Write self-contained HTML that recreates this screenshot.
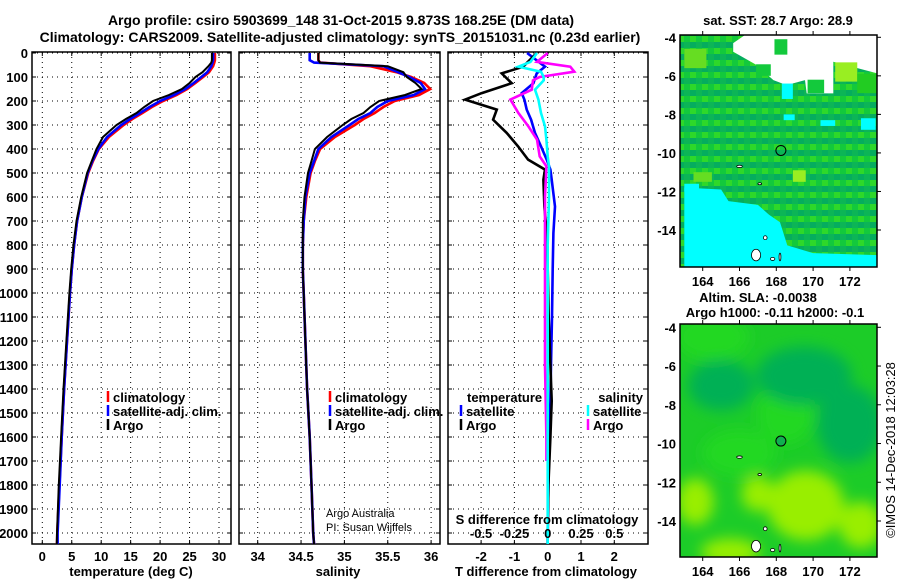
<!DOCTYPE html>
<html><head><meta charset="utf-8">
<style>
html,body{margin:0;padding:0;background:#fff;}
svg{display:block;font-family:"Liberation Sans",sans-serif;}
.t{font-weight:bold;font-size:13px;fill:#000;}
.n{font-weight:normal;fill:#000;}
.tl{font-weight:bold;font-size:14px;fill:#000;}
</style></head>
<body>
<svg id="fig" width="900" height="580" viewBox="0 0 900 580" xmlns="http://www.w3.org/2000/svg">
<defs>
<clipPath id="c1"><rect x="32" y="52" width="199" height="492"/></clipPath>
<clipPath id="c2"><rect x="239" y="52" width="201" height="492"/></clipPath>
<clipPath id="c3"><rect x="448" y="52" width="200" height="492"/></clipPath>
<clipPath id="cm1"><rect x="680" y="35" width="197" height="232"/></clipPath>
<clipPath id="cm2"><rect x="680" y="324" width="197" height="233"/></clipPath>
<filter id="blur" x="-50%" y="-50%" width="200%" height="200%"><feGaussianBlur stdDeviation="7"/></filter>
<pattern id="pix" width="12" height="12" patternUnits="userSpaceOnUse">
<rect width="12" height="12" fill="#0cb556"/><rect width="6" height="6" fill="#13c93c"/><rect x="6" y="6" width="6" height="6" fill="#05ad5e"/><rect x="6" y="0" width="6" height="6" fill="#2ed82a"/>
</pattern>
</defs>
<text class="tl" x="341" y="25" text-anchor="middle">Argo profile: csiro 5903699_148 31-Oct-2015 9.873S 168.25E (DM data)</text>
<text class="tl" x="340" y="42" text-anchor="middle">Climatology: CARS2009. Satellite-adjusted climatology: synTS_20151031.nc (0.23d earlier)</text>
<g id="layer"></g>
</svg>
<script>
// ---- data ----
const depths = [0,30,40,55,80,100,125,150,175,200,225,250,275,300,350,400,450,500,600,700,800,900,1000,1200,1400,1600,1800,2000,2050];
const tempArgo = [28.8,28.8,28.7,28.2,27.2,26.0,25.0,23.7,21.5,18.8,17.3,16.0,14.2,12.6,10.3,9.2,8.4,7.6,6.6,5.8,5.3,4.9,4.6,4.1,3.6,3.2,2.8,2.5,2.45];
const tempClim = [29.3,29.3,29.2,29.0,28.3,27.3,26.0,24.6,22.8,20.5,18.6,17.0,15.3,13.8,11.3,9.6,8.6,7.8,6.7,5.9,5.4,5.0,4.7,4.2,3.7,3.3,2.9,2.55,2.5];
const tempSat = [29.0,29.0,28.9,28.7,28.0,27.0,25.7,24.3,22.4,20.0,18.2,16.6,14.9,13.4,11.0,9.5,8.5,7.7,6.7,5.9,5.4,5.0,4.7,4.2,3.7,3.3,2.95,2.6,2.6];
const salArgo = [34.70,34.70,34.72,35.5,35.68,35.72,35.82,35.89,35.7,35.4,35.3,35.22,35.08,34.98,34.80,34.66,34.62,34.58,34.54,34.52,34.52,34.52,34.53,34.55,34.57,34.6,34.62,34.64,34.65];
const salSat = [34.60,34.60,34.65,35.45,35.62,35.75,35.88,35.93,35.8,35.5,35.38,35.3,35.16,35.06,34.85,34.70,34.65,34.60,34.55,34.53,34.52,34.52,34.53,34.55,34.57,34.6,34.62,34.64,34.65];
const salClim = [34.70,34.70,34.72,35.3,35.6,35.77,35.92,35.99,35.86,35.58,35.45,35.35,35.22,35.12,34.89,34.72,34.66,34.61,34.56,34.53,34.52,34.52,34.53,34.55,34.57,34.6,34.62,34.64,34.65];
const tDiffDepths = [0,57,85,126,167,194,236,278,333,389,444,486,528,640,750,900,1100,1300,1450,1600,1800,2000,2050];
const tDiffArgo = [-0.33,-0.74,-1.38,-1.08,-1.98,-2.48,-1.53,-1.64,-1.23,-0.89,-0.59,-0.08,-0.13,-0.1,-0.03,0.0,0.03,0.08,0.12,0.08,0.02,0.0,0.0];
const tDiffSat = [-0.62,-0.08,-0.33,-0.43,-0.78,-0.7,-0.63,-0.5,-0.38,-0.2,-0.03,0.08,0.12,0.22,0.17,0.15,0.13,0.1,0.08,0.05,0.02,0.0,0.0];
const sDiffDepths = [0,37,57,78,100,114,153,194,250,306,361,431,472,600,800,1000,1300,1600,1700,2000,2050];
const sDiffArgo = [0.0,-0.08,0.17,0.2,-0.06,-0.11,-0.12,-0.28,-0.22,-0.145,-0.08,-0.06,-0.01,-0.02,-0.02,-0.02,-0.02,-0.01,-0.01,null,null];
const sDiffSat = [-0.08,-0.13,-0.22,-0.05,-0.03,-0.03,-0.095,-0.07,-0.05,-0.02,-0.01,0.0,0.01,0.01,0.0,0.0,0.0,0.0,0.0,0.0,0.0];
const depthTicks = [0,100,200,300,400,500,600,700,800,900,1000,1100,1200,1300,1400,1500,1600,1700,1800,1900,2000];
const tempTicks = [0,5,10,15,20,25,30];
const salTicks = [34,34.5,35,35.5,36];
const salTickLabels = ["34","34.5","35","35.5","36"];
const tDiffTicks = [-2,-1,0,1,2];
const sDiffTicks = [-0.5,-0.25,0,0.25,0.5];
const sDiffTickLabels = ["-0.5","-0.25","0","0.25","0.5"];
const lonTicks = [164,166,168,170,172];
const latTicks = [-4,-6,-8,-10,-12,-14];
const floatLon = 168.25, floatLat = -9.873;

// ---- scales ----
const NS='http://www.w3.org/2000/svg';
const layer=document.getElementById('layer');
const yD = d => 53 + d*0.24;
const xT = v => 42.3 + v*5.89;
const xS = v => 257.7 + (v-34)*86.7;
const xTD = v => 547.7 + v*33.3;
const xSD = v => 547.7 + v*4*33.3;
const lonX = lon => 702.7 + (lon-164)*18.4;
const latY1 = lat => 37.3 + (-4-lat)*19.27;
const latY2 = lat => 327.3 + (-4-lat)*19.37;

function mk(tag, attrs, parent){const e=document.createElementNS(NS,tag);for(const k in attrs)e.setAttribute(k,attrs[k]);(parent||layer).appendChild(e);return e;}
function txt(s,x,y,anchor,cls,parent){const e=mk('text',{x:x,y:y,'text-anchor':anchor||'start','class':cls||'t'},parent);e.textContent=s;return e;}
function pathFrom(xs,ds,xf){let p='';let pen=false;for(let i=0;i<xs.length;i++){if(xs[i]===null){pen=false;continue;}p+=(pen?'L':'M')+xf(xs[i]).toFixed(1)+','+yD(ds[i]).toFixed(1);pen=true;}return p;}

function panel(x0,x1,clip,xTicksArr,xf,name){
  const g=mk('g',{});
  
  
  depthTicks.forEach(d=>{
    const l=mk('line',{x1:x0,x2:x1,y1:yD(d),y2:yD(d),stroke:'#000','stroke-width':1,'stroke-dasharray':'1,4'},g);
    
    
    mk('line',{x1:x0,x2:x0+4,y1:yD(d),y2:yD(d),stroke:'#000'},g);
    mk('line',{x1:x1-4,x2:x1,y1:yD(d),y2:yD(d),stroke:'#000'},g);
  });
  xTicksArr.forEach(v=>{
    const l=mk('line',{x1:xf(v),x2:xf(v),y1:52,y2:544,stroke:'#000','stroke-width':1,'stroke-dasharray':'1,4'},g);
    
    
    mk('line',{x1:xf(v),x2:xf(v),y1:52,y2:56,stroke:'#000'},g);
    mk('line',{x1:xf(v),x2:xf(v),y1:540,y2:544,stroke:'#000'},g);
  });
  const f=mk('rect',{x:x0,y:52,width:x1-x0,height:492,fill:'none',stroke:'#000','stroke-width':1.5},g);
  
  
  return g;
}
function series(vals,ds,xf,color,clip,name,w){
  const p=mk('path',{d:pathFrom(vals,ds,xf),fill:'none',stroke:color,'stroke-width':w||2.6,'stroke-linejoin':'miter','clip-path':'url(#'+clip+')'});
  
  
}
function legendItem(x,y,color,label,name){
  const g=mk('g',{});
  
  
  mk('line',{x1:x,x2:x,y1:y-11,y2:y,stroke:color,'stroke-width':2.5},g);
  txt(label,x+5,y,'start','t',g);
}

// ---- panel 1: temperature ----
panel(32,231,'c1',tempTicks,xT,'temperature-panel');
depthTicks.forEach(d=>{const e=txt(String(d),28,yD(d)+5,'end');});
tempTicks.forEach(v=>{const e=txt(String(v),xT(v),561,'middle');});
{const e=txt('temperature (deg C)',131,576,'middle');}
series(tempClim,depths,xT,'#ff0000','c1','temp-climatology-line');
series(tempSat,depths,xT,'#0000ff','c1','temp-satellite-line');
series(tempArgo,depths,xT,'#000000','c1','temp-argo-line',2);
legendItem(108,402,'#ff0000','climatology','legend-climatology');
legendItem(108,416,'#0000ff','satellite-adj. clim.','legend-satellite-adj');
legendItem(108,430,'#000000','Argo','legend-argo');

// ---- panel 2: salinity ----
panel(239,440,'c2',salTicks,xS,'salinity-panel');
salTicks.forEach((v,i)=>{const e=txt(salTickLabels[i],xS(v),561,'middle');});
{const e=txt('salinity',338,576,'middle');}
series(salClim,depths,xS,'#ff0000','c2','sal-climatology-line');
series(salSat,depths,xS,'#0000ff','c2','sal-satellite-line');
series(salArgo,depths,xS,'#000000','c2','sal-argo-line',2);
legendItem(330,402,'#ff0000','climatology','legend-climatology-sal');
legendItem(330,416,'#0000ff','satellite-adj. clim.','legend-satellite-adj-sal');
legendItem(330,430,'#000000','Argo','legend-argo-sal');
{const e=txt('Argo Australia',326,517,'start','n');e.setAttribute('font-size','11');}
{const e=txt('PI: Susan Wijffels',326,531,'start','n');e.setAttribute('font-size','11');}

// ---- panel 3: differences ----
panel(448,648,'c3',tDiffTicks,xTD,'difference-panel');
tDiffTicks.forEach(v=>{const e=txt(String(v),xTD(v),561,'middle');});
{const e=txt('T difference from climatology',546,576,'middle');}
series(tDiffSat,tDiffDepths,xTD,'#0000ff','c3','t-diff-satellite-line');
series(tDiffArgo,tDiffDepths,xTD,'#000000','c3','t-diff-argo-line');
series(sDiffArgo,sDiffDepths,xSD,'#ff00ff','c3','s-diff-argo-line');
series(sDiffSat,sDiffDepths,xSD,'#00ffff','c3','s-diff-satellite-line');
{const e=txt('S difference from climatology',547,524,'middle');}
sDiffTicks.forEach((v,i)=>{const e=txt(sDiffTickLabels[i],xSD(v),538,'middle');});
{const e=txt('temperature',467,402);}
legendItem(461,416,'#0000ff','satellite','legend-t-satellite');
legendItem(461,430,'#000000','Argo','legend-t-argo');
{const e=txt('salinity',643,402,'end');}
legendItem(588,416,'#00ffff','satellite','legend-s-satellite');
legendItem(588,430,'#ff00ff','Argo','legend-s-argo');

// ---- map 1: SST ----
const m1=mk('g',{'clip-path':'url(#cm1)'});


mk('rect',{x:680,y:35,width:197,height:232,fill:'url(#pix)'},m1);
const cyanPoly=[[163,-11.8],[165,-11.9],[165.4,-12.5],[167,-12.7],[167.6,-13.2],[168.2,-13.6],[168.6,-14.8],[170,-15.2],[173.5,-15.3],[173.5,-16],[163,-16]];
const whitePoly=[[166.3,-3.88],[173.46,-3.88],[173.46,-5.87],[171.1,-5.27],[171.1,-6.91],[169.65,-6.91],[169.56,-6.22],[168.56,-6.48],[167.84,-6.22],[166.93,-5.44],[165.66,-4.75],[165.66,-4.3]];
const greenBlocks=[[167.9,-4.1,168.6,-4.9,'#13c93c'],[171.2,-5.3,172.4,-6.3,'#99ee22'],[172.4,-5.9,173.46,-6.9,'#22cc22'],[169.7,-6.2,170.6,-6.9,'#13c93c'],[166.9,-5.4,167.7,-6.0,'#13c93c'],[168.9,-10.9,169.6,-11.5,'#99ee22'],[163,-4.6,164.2,-5.6,'#66dd22'],[163.5,-11.0,164.5,-11.5,'#66dd22']];
const cyanBlocks=[[168.3,-6.4,168.9,-7.2],[168.4,-8.0,169.0,-8.3],[170.4,-8.3,171.2,-8.6],[172.6,-8.2,173.4,-8.8],[163,-11.6,163.8,-12.0]];
function poly(pts,fill,lx,ly,par,name){const p=mk('polygon',{points:pts.map(q=>lx(q[0]).toFixed(1)+','+ly(q[1]).toFixed(1)).join(' '),fill:fill},par);return p;}
poly(cyanPoly,'#00ffff',lonX,latY1,m1,'sst-cold-region');
poly(whitePoly,'#ffffff',lonX,latY1,m1,'sst-missing-data');
greenBlocks.forEach(b=>mk('rect',{x:lonX(b[0]),y:latY1(b[1]),width:lonX(b[2])-lonX(b[0]),height:latY1(b[3])-latY1(b[1]),fill:b[4]},m1));
cyanBlocks.forEach(b=>mk('rect',{x:lonX(b[0]),y:latY1(b[1]),width:lonX(b[2])-lonX(b[0]),height:latY1(b[3])-latY1(b[1]),fill:'#00ffff'},m1));
mk('rect',{x:680,y:35,width:197,height:232,fill:'none',stroke:'#000','stroke-width':1.5});
{const c=mk('circle',{cx:lonX(floatLon),cy:latY1(floatLat),r:5,fill:'none',stroke:'#000','stroke-width':1});}
{const e=txt('sat. SST: 28.7 Argo: 28.9',778,25,'middle');}

// ---- map 2: SLA ----
const m2=mk('g',{'clip-path':'url(#cm2)'});


mk('rect',{x:680,y:324,width:197,height:233,fill:'#1ccc28'},m2);
const bl=mk('g',{filter:'url(#blur)'},m2);
const brightG=[[164.5,-4.5,2.0,1.2],[168.5,-8.5,1.5,1.5],[166,-10.5,2,1.2]];
brightG.forEach(e=>mk('ellipse',{cx:lonX(e[0]),cy:latY2(e[1]),rx:e[2]*18.4,ry:e[3]*19.37,fill:'#22d822'},bl));
const teal=[[172,-9,1.8,2.0],[169.5,-6.5,2.6,1.5],[165,-7,1.8,1.3]];
teal.forEach(e=>mk('ellipse',{cx:lonX(e[0]),cy:latY2(e[1]),rx:e[2]*18.4,ry:e[3]*19.37,fill:'#05b055'},bl));
const yg=[[169.6,-13.2,2.1,1.8],[172.6,-14.2,1.2,1.2],[163.6,-13.0,1.0,1.2],[165.5,-15.6,1.6,0.7],[167,-12.6,0.9,0.9]];
yg.forEach(e=>mk('ellipse',{cx:lonX(e[0]),cy:latY2(e[1]),rx:e[2]*18.4,ry:e[3]*19.37,fill:'#99ee00'},bl));
mk('rect',{x:680,y:324,width:197,height:233,fill:'none',stroke:'#000','stroke-width':1.5});
{const c=mk('circle',{cx:lonX(floatLon),cy:latY2(floatLat),r:5,fill:'#10b050',stroke:'#000','stroke-width':1});}
{const e=txt('Altim. SLA: -0.0038',758,302,'middle');}
{const e=txt('Argo h1000: -0.11 h2000: -0.1',775,317,'middle');}

// islands (both maps)
const islands=[[166.9,-15.3,0.25,0.3],[167.4,-14.4,0.1,0.1],[166.0,-10.7,0.15,0.06],[167.1,-11.6,0.1,0.05],[167.8,-15.5,0.12,0.08],[168.2,-15.4,0.05,0.2]];
islands.forEach(s=>{
  [latY1,latY2].forEach(ly=>{
    const e=mk('ellipse',{cx:lonX(s[0]),cy:ly(s[1]),rx:s[2]*18.4,ry:s[3]*19.37,fill:'#fff',stroke:'#000','stroke-width':0.8});
    
    
  });
});

// map axes
lonTicks.forEach(v=>{
  const a=txt(String(v),lonX(v),286,'middle');
  const b=txt(String(v),lonX(v),576,'middle');
  mk('line',{x1:lonX(v),x2:lonX(v),y1:35,y2:31,stroke:'#000'});mk('line',{x1:lonX(v),x2:lonX(v),y1:267,y2:271,stroke:'#000'});
  mk('line',{x1:lonX(v),x2:lonX(v),y1:324,y2:320,stroke:'#000'});mk('line',{x1:lonX(v),x2:lonX(v),y1:557,y2:561,stroke:'#000'});
});
latTicks.forEach(v=>{
  const a=txt(String(v),676,latY1(v)+5,'end');
  const b=txt(String(v),676,latY2(v)+5,'end');
  mk('line',{x1:877,x2:881,y1:latY1(v),y2:latY1(v),stroke:'#000'});mk('line',{x1:877,x2:881,y1:latY2(v),y2:latY2(v),stroke:'#000'});
});
{const e=txt('©IMOS 14-Dec-2018 12:03:28',0,0,'middle','n');e.setAttribute('font-size','13');e.setAttribute('transform','translate(895,450) rotate(-90)');}
</script>
</body></html>
